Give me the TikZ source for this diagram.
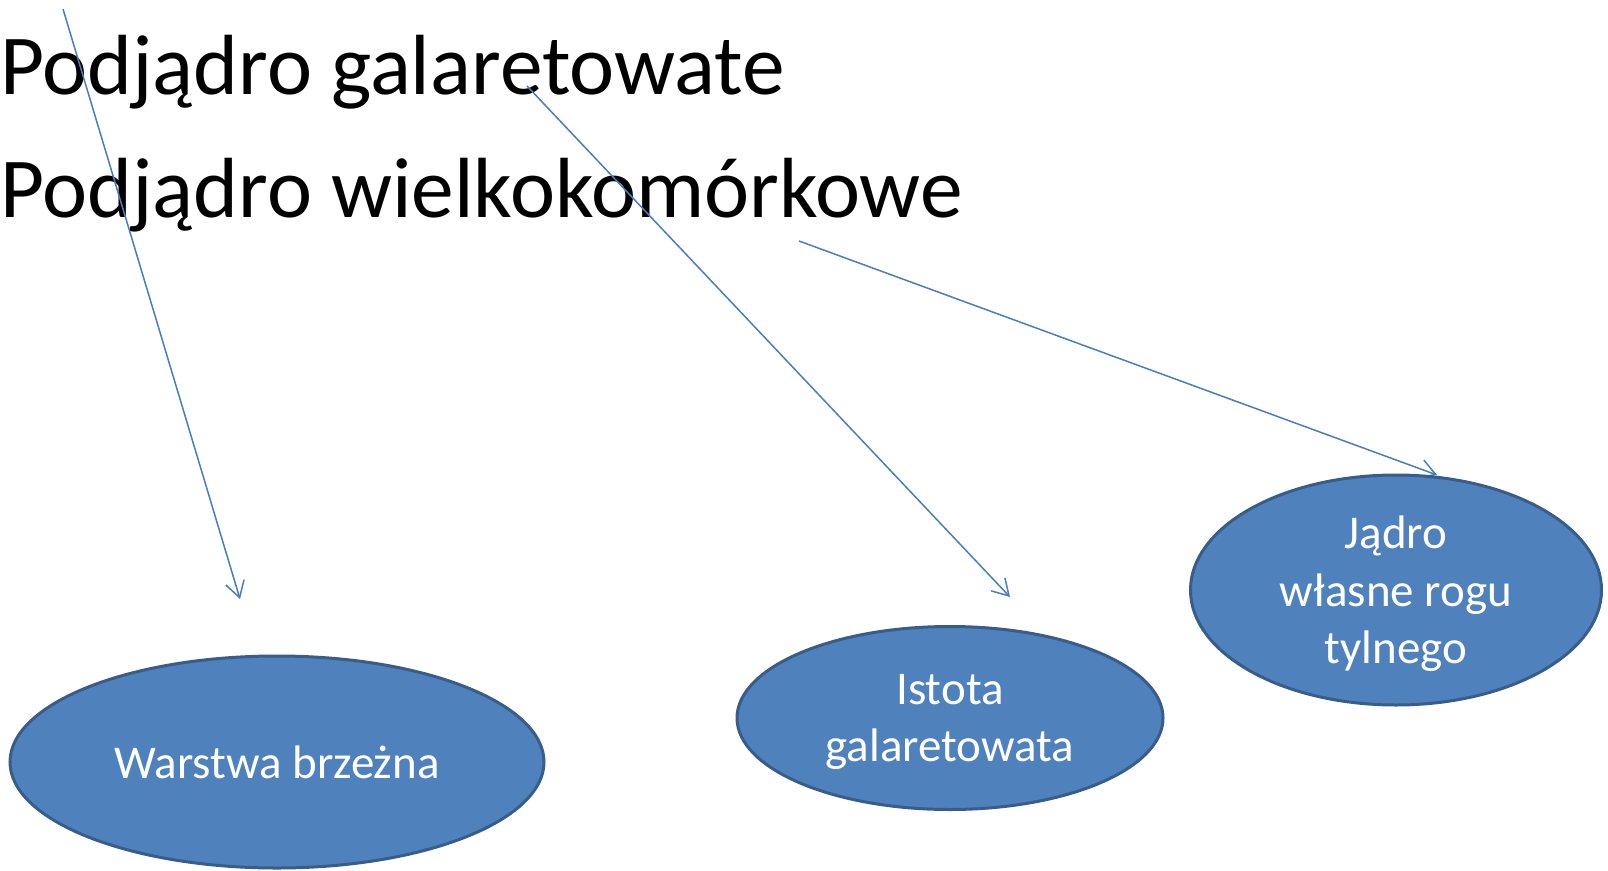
\documentclass[tikz,border=0pt]{standalone}
\usepackage{fontspec}
\setmainfont{Carlito}
\usetikzlibrary{shapes.geometric,arrows.meta}
\definecolor{fillblue}{HTML}{4F81BD}
\definecolor{edgeblue}{HTML}{385D8A}
\definecolor{lineblue}{HTML}{4A7EBB}
\begin{document}
\begin{tikzpicture}[x=1pt,y=-1pt,
  title/.style={anchor=base west,inner sep=0pt,font=\fontsize{85.4}{100}\selectfont},
  bubble/.style={ellipse,draw=edgeblue,fill=fillblue,line width=3pt,inner sep=0pt,text depth=0pt,text=white,align=center,font=\fontsize{47}{57.5}\selectfont},
  link/.style={draw=lineblue,line width=1.5pt,-{Straight Barb[length=16pt,width=19pt]}}]
\useasboundingbox (0,0) rectangle (1608,870);
\node[title] (t1) at (0,94) {Podjądro galaretowate};
\node[title] (t2) at (0,217) {Podjądro wielkokomórkowe};
\coordinate (s1) at (63,9);
\coordinate (e1) at (240,599);
\coordinate (s2) at (527,86);
\coordinate (e2) at (1010,597);
\coordinate (s3) at (799,241);
\coordinate (e3) at (1437,475);
\draw[link] (s1) -- (e1);
\draw[link] (s2) -- (e2);
\draw[link] (s3) -- (e3);
\node[bubble,minimum width=534pt,minimum height=212pt] (w) at (277,762) {Warstwa brzeżna};
\node[bubble,minimum width=426pt,minimum height=183pt] (i) at (950,718) {Istota\\galaretowata};
\node[bubble,minimum width=411pt,minimum height=230pt] (j) at (1396,590) {Jądro\\własne rogu\\tylnego};
\end{tikzpicture}
\end{document}
